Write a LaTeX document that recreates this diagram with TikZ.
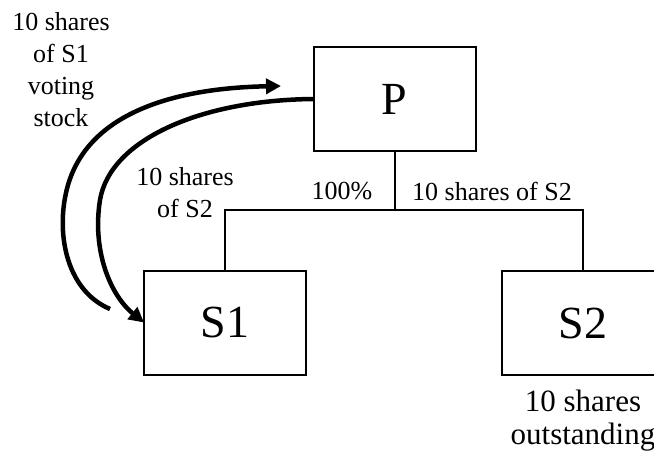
\documentclass[tikz,border=0pt]{standalone}
\usepackage{fontspec}
\setmainfont{Liberation Serif}
\usetikzlibrary{arrows.meta}
\begin{document}
\begin{tikzpicture}[x=1pt,y=-1pt,
 box/.style={draw,line width=2pt,minimum width=162pt,minimum height=104pt,inner sep=0pt,outer sep=0pt,font=\fontsize{46}{52}\selectfont},
 lbl/.style={inner sep=0pt,align=center,anchor=north,font=\fontsize{26}{32}\selectfont},
 biglbl/.style={lbl,font=\fontsize{31}{33}\selectfont},
 flow/.style={line width=4.5pt,-{Triangle[length=15pt,width=15pt]}},
 tree/.style={line width=2pt}]
\useasboundingbox (0,0) rectangle (654,455);
\node[box] (P) at (394.5,99) {P};
\node[box] (S1) at (225,322.5) {S1};
\node[box] (S2) at (583,323) {S2};
\coordinate (J) at (394.5,210);
\draw[tree] (P.south) -- (J);
\draw[tree] (S1.north) -- (S1.north |- J) -- (S2.north |- J) -- (S2.north);
\coordinate (oS) at (110,309);
\coordinate (oE) at (281,86);
\draw[flow] (oS) .. controls (65,290) and (55,230) .. (68,185) .. controls (90,110) and (180,88) .. (oE);
\draw[flow] (P.west) .. controls (200,100) and (110,140) .. (100,200) .. controls (92,250) and (110,295) .. (S1.west);
\node[lbl] (t1) at (61,12) {10 shares\\of S1\\voting\\stock};
\node[lbl] (t2) at (185,167) {10 shares\\of S2};
\node[lbl] (t3) at (342,182) {100\%};
\node[lbl] (t4) at (492,182) {10 shares of S2};
\node[biglbl] (t5) at (583,390) {10 shares\\outstanding};
\end{tikzpicture}
\end{document}
